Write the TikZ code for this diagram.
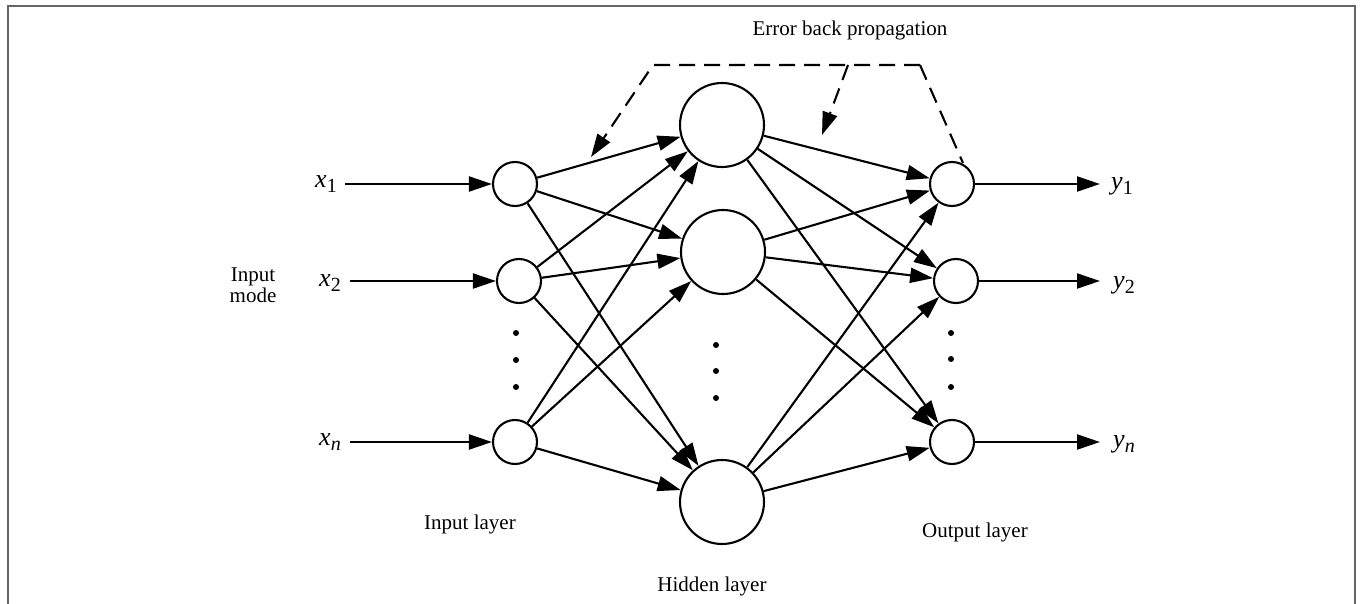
\documentclass[tikz,border=0pt]{standalone}
\usepackage{fontspec}
\setmainfont{Liberation Serif}
\usetikzlibrary{arrows.meta}
\newcommand\vlabel[2]{\textit{#1}\raisebox{-0.45ex}{\fontsize{20}{22}\selectfont #2}}
\begin{document}
\begin{tikzpicture}[x=1pt,y=-1pt,
  neuron/.style={circle,draw,line width=2.1pt,inner sep=0pt,minimum size=44pt},
  bigneuron/.style={circle,draw,line width=2.1pt,inner sep=0pt,minimum size=84pt},
  link/.style={line width=2.1pt,-{Triangle[length=23pt,width=15pt]}},
  backprop/.style={line width=2.1pt,dash pattern=on 16pt off 9pt,-{Triangle[length=23pt,width=15pt]}},
  lbl/.style={font=\fontsize{21}{23}\selectfont},
  var/.style={font=\fontsize{26}{28}\selectfont},
  dotmark/.style={circle,fill,inner sep=0pt,minimum size=6pt}]
\useasboundingbox (0,0) rectangle (1363,604);
% frame
\draw[line width=2.2pt,black!60] (8,610) -- (8,6) -- (1355,6) -- (1355,610);

% input layer
\node[neuron] (i1) at (515,184) {};
\node[neuron] (i2) at (519,281) {};
\node[neuron] (i3) at (515,442) {};
% hidden layer
\node[bigneuron] (h1) at (722,125) {};
\node[bigneuron] (h2) at (723,252) {};
\node[bigneuron] (h3) at (722,502) {};
% output layer
\node[neuron] (o1) at (952,184) {};
\node[neuron] (o2) at (956,281) {};
\node[neuron] (o3) at (952,442) {};

% ellipsis dots
\foreach \yy [count=\k] in {333,360,387} \node[dotmark] (di\k) at (516,\yy) {};
\foreach \yy [count=\k] in {345,371,398} \node[dotmark] (dh\k) at (716,\yy) {};
\foreach \yy [count=\k] in {333,359,387} \node[dotmark] (do\k) at (951,\yy) {};

% inputs
\node[var] (x1) at (326,184) {\vlabel{x}{1}};
\node[var] (x2) at (330,283) {\vlabel{x}{2}};
\node[var] (x3) at (330,442) {\vlabel{x}{\textit{n}}};
\coordinate (x1e) at (345,184);
\coordinate (x2e) at (350,281);
\coordinate (x3e) at (350,442);
\draw[link] (x1e) -- (i1);
\draw[link] (x2e) -- (i2);
\draw[link] (x3e) -- (i3);
\node[lbl,align=center] (mode) at (253,285) {Input\\[-2pt]mode};

% outputs
\coordinate (y1e) at (1100,184);
\coordinate (y2e) at (1100,281);
\coordinate (y3e) at (1100,442);
\draw[link] (o1) -- (y1e);
\draw[link] (o2) -- (y2e);
\draw[link] (o3) -- (y3e);
\node[var] (y1) at (1122,186) {\vlabel{y}{1}};
\node[var] (y2) at (1124,285) {\vlabel{y}{2}};
\node[var] (y3) at (1124,444) {\vlabel{y}{\textit{n}}};

% full connections
\foreach \a in {1,2,3} \foreach \b in {1,2,3} \draw[link] (i\a) -- (h\b);
\foreach \a in {1,2,3} \foreach \b in {1,2,3} \draw[link] (h\a) -- (o\b);

% error back propagation
\coordinate (tl) at (653,65);
\coordinate (tm) at (848,65);
\coordinate (tr) at (920,65);
\coordinate (e1) at (591,157);
\coordinate (e2) at (822,135);
\coordinate (e3) at (963,163);
\draw[backprop] (tr) -- (tl) -- (e1);
\draw[backprop] (tm) -- (e2);
\draw[line width=2.1pt,dash pattern=on 16pt off 9pt] (tr) -- (e3);

% captions
\node[lbl] (ebp) at (850,30) {Error back propagation};
\node[lbl] (il) at (470,524) {Input layer};
\node[lbl] (hl) at (712,586) {Hidden layer};
\node[lbl] (ol) at (975,532) {Output layer};
\end{tikzpicture}
\end{document}
